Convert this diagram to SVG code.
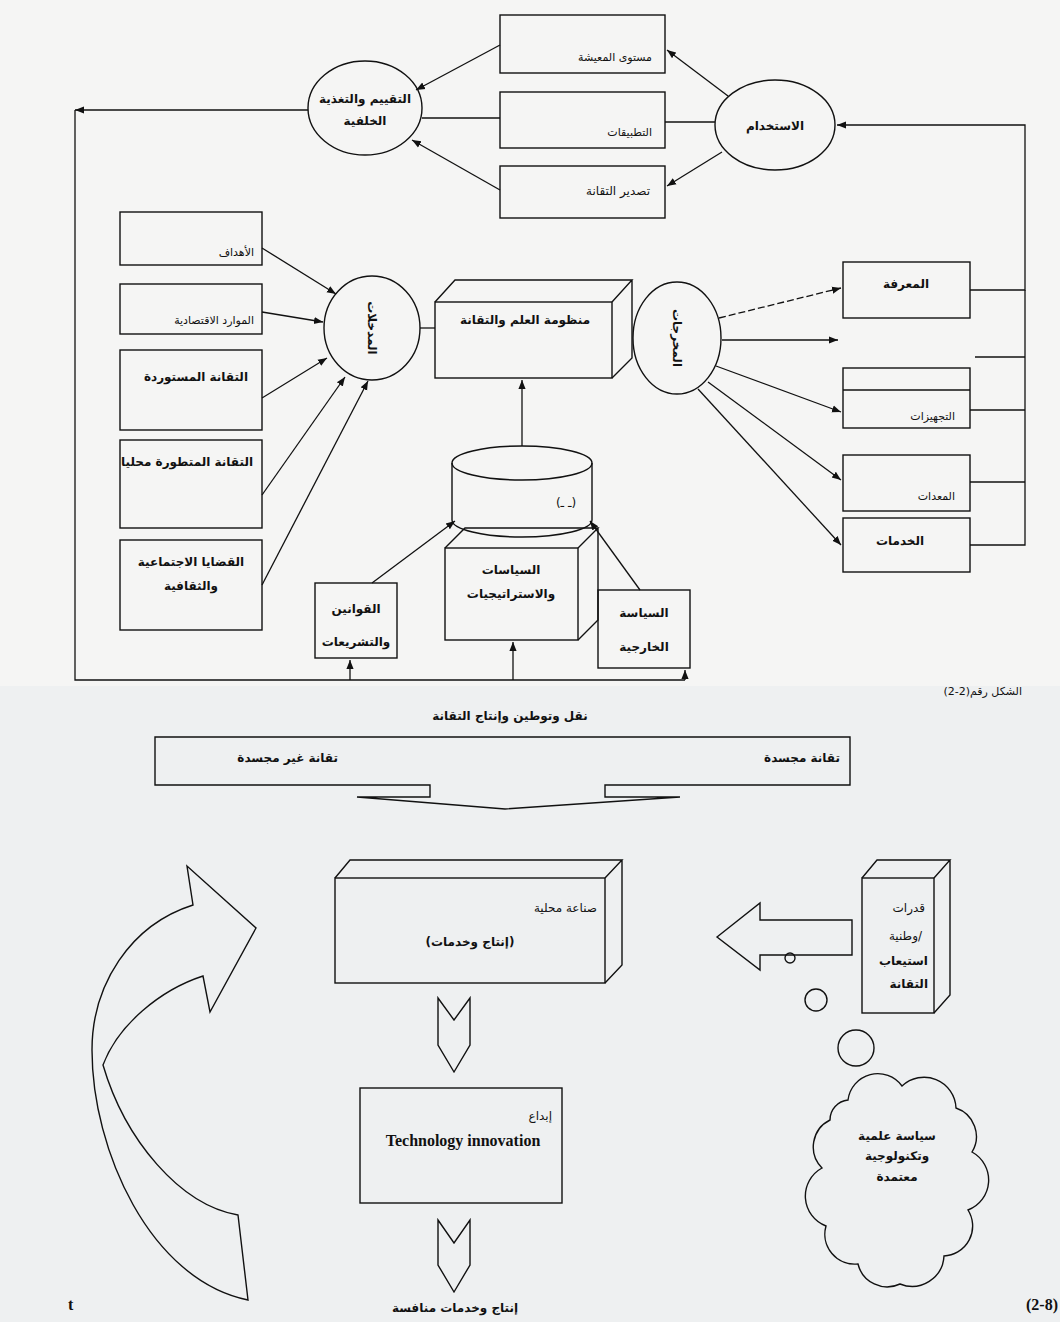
<svg xmlns="http://www.w3.org/2000/svg" width="1060" height="1322" viewBox="0 0 1060 1322">
<defs>
<style>
.ln{stroke:#111;stroke-width:1.3;fill:none}
.bx{stroke:#111;stroke-width:1.4;fill:none}
.t{font-family:"DejaVu Sans","Noto Sans",sans-serif;fill:#111;font-size:12px}
.b{font-weight:bold}
.s{font-size:11px}
.en{font-family:"Liberation Serif",serif;font-weight:bold;font-size:16px;fill:#111}
</style>
<marker id="ah" viewBox="0 0 10 10" refX="10" refY="5" markerWidth="9" markerHeight="9" markerUnits="userSpaceOnUse" orient="auto"><path d="M0,1 L10,5 L0,9 z" fill="#111"/></marker>
</defs>
<rect x="0" y="0" width="1060" height="1322" fill="#f5f5f4"/>
<rect x="0" y="686" width="1060" height="636" fill="#eef0f1"/>

<!-- top section nodes -->
<g id="n-living"><rect class="bx" x="500" y="15" width="165" height="58"/><text class="t s" x="652" y="61" text-anchor="end">مستوى المعيشة</text></g>
<g id="n-apps"><rect class="bx" x="500" y="92" width="165" height="56"/><text class="t s" x="652" y="136" text-anchor="end">التطبيقات</text></g>
<g id="n-export"><rect class="bx" x="500" y="166" width="165" height="52"/><text class="t" x="650" y="195" text-anchor="end" font-size="13">تصدير التقانة</text></g>
<g id="n-feedback"><ellipse class="bx" cx="365" cy="108" rx="57" ry="47"/><text class="t b" x="365" y="103" text-anchor="middle">التقييم والتغذية</text><text class="t b" x="365" y="125" text-anchor="middle">الخلفية</text></g>
<g id="n-use"><ellipse class="bx" cx="775" cy="125" rx="60" ry="45"/><text class="t b" x="775" y="130" text-anchor="middle" font-size="13">الاستخدام</text></g>

<g id="n-goals"><rect class="bx" x="120" y="212" width="142" height="53"/><text class="t s" x="254" y="256" text-anchor="end">الأهداف</text></g>
<g id="n-resources"><rect class="bx" x="120" y="284" width="142" height="50"/><text class="t s" x="254" y="324" text-anchor="end">الموارد الاقتصادية</text></g>
<g id="n-imported"><rect class="bx" x="120" y="350" width="142" height="80"/><text class="t b" x="248" y="381" text-anchor="end">التقانة المستوردة</text></g>
<g id="n-local"><rect class="bx" x="120" y="440" width="142" height="88"/><text class="t b" x="253" y="466" text-anchor="end" font-size="11">التقانة المتطورة محليا</text></g>
<g id="n-social"><rect class="bx" x="120" y="540" width="142" height="90"/><text class="t b" x="191" y="566" text-anchor="middle">القضايا الاجتماعية</text><text class="t b" x="191" y="590" text-anchor="middle">والثقافية</text></g>

<g id="n-inputs"><ellipse class="bx" cx="372" cy="328" rx="48" ry="52"/><text class="t b" x="0" y="0" text-anchor="middle" transform="translate(368,328) rotate(90)">المدخلات</text></g>
<g id="n-system"><rect class="bx" x="435" y="302" width="177" height="76"/><path class="bx" d="M435,302 L455,280 H632 L612,302 M632,280 V358 L612,378"/><text class="t b" x="525" y="324" text-anchor="middle">منظومة العلم والتقانة</text></g>
<g id="n-outputs"><ellipse class="bx" cx="677" cy="338" rx="44" ry="56"/><text class="t b" x="0" y="0" text-anchor="middle" transform="translate(673,338) rotate(90)">المخرجات</text></g>

<g id="n-knowledge"><rect class="bx" x="843" y="262" width="127" height="56"/><text class="t b" x="906" y="288" text-anchor="middle">المعرفة</text></g>
<g id="n-equip"><rect class="bx" x="843" y="368" width="127" height="60"/><line class="ln" x1="843" y1="390" x2="970" y2="390"/><text class="t s" x="955" y="420" text-anchor="end">التجهيزات</text></g>
<g id="n-devices"><rect class="bx" x="843" y="455" width="127" height="56"/><text class="t s" x="955" y="500" text-anchor="end">المعدات</text></g>
<g id="n-services"><rect class="bx" x="843" y="518" width="127" height="54"/><text class="t b" x="900" y="545" text-anchor="middle">الخدمات</text></g>

<g id="n-cylinder"><path class="bx" d="M452,463 V520 A70,17 0 0 0 592,520 V463"/><ellipse class="bx" cx="522" cy="463" rx="70" ry="17"/><text class="t" x="566" y="507" text-anchor="middle" font-size="8">(ـ ـ)</text></g>
<g id="n-policies"><rect class="bx" x="445" y="548" width="133" height="92"/><path class="bx" d="M445,548 L465,528 H598 L578,548 M598,528 V620 L578,640"/><text class="t b" x="511" y="574" text-anchor="middle">السياسات</text><text class="t b" x="511" y="598" text-anchor="middle">والاستراتيجيات</text></g>
<g id="n-laws"><rect class="bx" x="315" y="583" width="82" height="75"/><text class="t b" x="356" y="613" text-anchor="middle">القوانين</text><text class="t b" x="356" y="646" text-anchor="middle">والتشريعات</text></g>
<g id="n-foreign"><rect class="bx" x="598" y="590" width="92" height="78"/><text class="t b" x="644" y="617" text-anchor="middle">السياسة</text><text class="t b" x="644" y="651" text-anchor="middle">الخارجية</text></g>
<text class="t s" x="1022" y="695" direction="rtl" style="text-anchor:start">الشكل رقم(2-2)</text>

<!-- bottom section nodes -->
<text class="t b" x="510" y="720" text-anchor="middle" font-size="15">نقل وتوطين وإنتاج التقانة</text>
<g id="n-transfer"><path class="bx" d="M155,737 H850 V785 H605 V797 H680 L505,809 L357,797 H430 V785 H155 Z"/><text class="t b" x="338" y="762" text-anchor="end">تقانة غير مجسدة</text><text class="t b" x="840" y="762" text-anchor="end">تقانة مجسدة</text></g>
<g id="n-industry"><rect class="bx" x="335" y="878" width="270" height="105"/><path class="bx" d="M335,878 L350,860 H622 L605,878 M622,860 V965 L605,983"/><text class="t" x="597" y="912" text-anchor="end">صناعة محلية</text><text class="t b" x="470" y="946" text-anchor="middle" direction="rtl">(إنتاج وخدمات)</text></g>
<g id="n-capacity"><rect class="bx" x="862" y="878" width="72" height="135"/><path class="bx" d="M862,878 L877,860 H950 L934,878 M950,860 V995 L934,1013"/><text class="t" x="925" y="912" text-anchor="end">قدرات</text><text class="t" x="922" y="940" text-anchor="end">وطنية/</text><text class="t b" x="928" y="965" text-anchor="end">استيعاب</text><text class="t b" x="928" y="988" text-anchor="end">التقانة</text></g>
<g id="n-innovation"><rect class="bx" x="360" y="1088" width="202" height="115"/><text class="t" x="552" y="1120" text-anchor="end">إبداع</text><text class="en" x="463" y="1146" text-anchor="middle">Technology innovation</text></g>
<g id="n-cloud"><path class="bx" d="M848,1100 A30,30 0 0 1 902,1086 A32,32 0 0 1 956,1108 A30,30 0 0 1 972,1152 A32,32 0 0 1 968,1210 A30,30 0 0 1 944,1256 A32,32 0 0 1 900,1284 A30,30 0 0 1 858,1264 A30,30 0 0 1 826,1226 A32,32 0 0 1 822,1168 A30,30 0 0 1 830,1120 A20,20 0 0 1 848,1100 Z"/><text class="t b" x="897" y="1140" text-anchor="middle">سياسة علمية</text><text class="t b" x="897" y="1160" text-anchor="middle">وتكنولوجية</text><text class="t b" x="897" y="1181" text-anchor="middle">معتمدة</text></g>
<g id="n-bubbles"><circle class="bx" cx="790" cy="958" r="5"/><circle class="bx" cx="816" cy="1000" r="11"/><circle class="bx" cx="856" cy="1048" r="18"/></g>
<text class="t b" x="455" y="1312" text-anchor="middle">إنتاج وخدمات منافسة</text>
<text class="en" x="68" y="1310">t</text>
<text class="en" x="1058" y="1310" text-anchor="end" font-weight="normal">(2-8)</text>

<!-- connectors -->
<g id="connectors">
<line class="ln" x1="728" y1="96" x2="667" y2="50" marker-end="url(#ah)"/>
<line class="ln" x1="715" y1="122" x2="665" y2="122"/>
<line class="ln" x1="722" y1="152" x2="667" y2="186" marker-end="url(#ah)"/>
<line class="ln" x1="500" y1="45" x2="416" y2="90" marker-end="url(#ah)"/>
<line class="ln" x1="500" y1="118" x2="422" y2="118"/>
<line class="ln" x1="500" y1="190" x2="412" y2="140" marker-end="url(#ah)"/>
<line class="ln" x1="308" y1="110" x2="75" y2="110" marker-end="url(#ah)"/>
<polyline class="ln" points="75,110 75,680 685,680"/>
<polyline class="ln" points="970,290 1025,290 1025,125 837,125" marker-end="url(#ah)"/>
<line class="ln" x1="975" y1="357" x2="1025" y2="357"/>
<line class="ln" x1="970" y1="410" x2="1025" y2="410"/>
<line class="ln" x1="970" y1="482" x2="1025" y2="482"/>
<polyline class="ln" points="970,545 1025,545 1025,290"/>
<line class="ln" x1="262" y1="248" x2="336" y2="294" marker-end="url(#ah)"/>
<line class="ln" x1="262" y1="312" x2="323" y2="322" marker-end="url(#ah)"/>
<line class="ln" x1="262" y1="398" x2="327" y2="358" marker-end="url(#ah)"/>
<line class="ln" x1="262" y1="495" x2="345" y2="377" marker-end="url(#ah)"/>
<line class="ln" x1="262" y1="585" x2="368" y2="381" marker-end="url(#ah)"/>
<line class="ln" x1="420" y1="328" x2="435" y2="328"/>
<line class="ln" x1="719" y1="318" x2="841" y2="288" stroke-dasharray="7,3" marker-end="url(#ah)"/>
<line class="ln" x1="722" y1="340" x2="838" y2="340" marker-end="url(#ah)"/>
<line class="ln" x1="716" y1="366" x2="841" y2="412" marker-end="url(#ah)"/>
<line class="ln" x1="708" y1="382" x2="841" y2="480" marker-end="url(#ah)"/>
<line class="ln" x1="698" y1="389" x2="841" y2="545" marker-end="url(#ah)"/>
<line class="ln" x1="522" y1="446" x2="522" y2="380" marker-end="url(#ah)"/>
<line class="ln" x1="372" y1="583" x2="455" y2="521" marker-end="url(#ah)"/>
<line class="ln" x1="640" y1="590" x2="590" y2="521" marker-end="url(#ah)"/>
<line class="ln" x1="350" y1="680" x2="350" y2="660" marker-end="url(#ah)"/>
<line class="ln" x1="513" y1="680" x2="513" y2="642" marker-end="url(#ah)"/>
<line class="ln" x1="685" y1="680" x2="685" y2="670" marker-end="url(#ah)"/>
<path class="bx" d="M717,937 L760,903 V920 H852 V955 H760 V970 Z"/>
<path class="bx" d="M438,998 L454,1020 L470,998 V1045 L454,1072 L438,1045 Z"/>
<path class="bx" d="M438,1220 L454,1243 L470,1220 V1265 L454,1292 L438,1265 Z"/>
<path class="bx" d="M193,905 L187,866 L256,928 L210,1012 L203,976 C160,990 118,1025 103,1065 C125,1140 180,1205 238,1215 L248,1300 C150,1280 92,1150 92,1050 C92,985 130,925 193,905 Z"/>
</g>
</svg>
